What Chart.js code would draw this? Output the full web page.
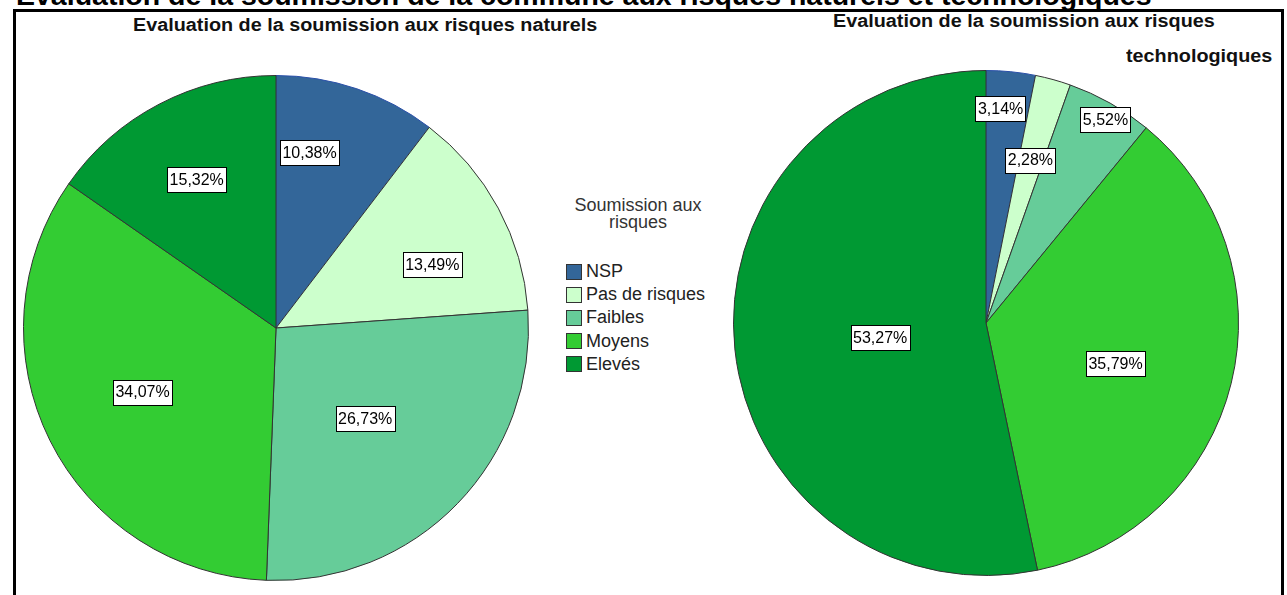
<!DOCTYPE html>
<html>
<head>
  <title>Soumission aux risques</title>
  <script src="https://cdn.jsdelivr.net/npm/chart.js@4.4.1/dist/chart.umd.min.js"></script>
  <style>
    body { margin: 0; width: 1287px; height: 595px; overflow: hidden; background: #fff;
           font-family: "Liberation Sans", Arial, sans-serif; position: relative; }
    .txt { position: absolute; white-space: nowrap; }
    .sous { font-size: 18px; line-height: 18px; font-weight: bold; color: #111;
            transform: scaleX(1.1); transform-origin: left center; }
    #cadre { position: absolute; left: 13px; top: 9px; width: 1271px; height: 700px;
             border: 3px solid #000; box-sizing: border-box; }
    canvas { position: absolute; }
    #legende { position: absolute; left: 566px; top: 260px; }
    .ligne { height: 23.2px; display: flex; align-items: center; font-size: 18px; color: #222; }
    .case { width: 14px; height: 14px; border: 1.5px solid #333; margin-right: 4px; }
  </style>
</head>
<body>
  <div class="txt" style="left:16px; top:-19px; font-size:28.5px; line-height:28.5px; font-weight:bold; color:#000;">Evaluation de la soumission de la commune aux risques naturels et technologiques</div>
  <div id="cadre"></div>

  <div class="txt sous" style="left:133px; top:16px;">Evaluation de la soumission aux risques naturels</div>
  <div class="txt sous" style="left:833px; top:12px;">Evaluation de la soumission aux risques</div>
  <div class="txt sous" style="left:1126px; top:47px;">technologiques</div>

  <div class="txt" style="left:538px; top:197px; width:200px; text-align:center; font-size:18px; line-height:17.3px; color:#333; white-space:normal;">Soumission aux<br>risques</div>
  <div id="legende"></div>

  <canvas id="naturels" width="506" height="506" style="left:23px; top:75px; width:506px; height:506px;"></canvas>
  <canvas id="technos" width="506" height="506" style="left:733px; top:70px; width:506px; height:506px;"></canvas>

  <script>
    // categories et couleurs
    var categories = ['NSP', 'Pas de risques', 'Faibles', 'Moyens', 'Elevés'];
    var couleurs = ['#336699', '#ccffcc', '#66cc99', '#33cc33', '#009933'];

    // pourcentages
    var risquesNaturels = [10.38, 13.49, 26.73, 34.07, 15.32];
    var risquesTechnos = [3.14, 2.28, 5.52, 35.79, 53.27];

    // legende commune
    var legende = document.getElementById('legende');
    categories.forEach(function(nom, i) {
      var ligne = document.createElement('div');
      ligne.className = 'ligne';
      var c = document.createElement('div');
      c.className = 'case';
      c.style.background = couleurs[i];
      var t = document.createElement('span');
      t.textContent = nom;
      ligne.appendChild(c);
      ligne.appendChild(t);
      legende.appendChild(ligne);
    });

    // etiquettes en pourcentage dans des cadres blancs
    var etiquettes = {
      id: 'etiquettes',
      afterDatasetsDraw: function(chart, args, opts) {
        var ctx = chart.ctx;
        var meta = chart.getDatasetMeta(0);
        var valeurs = chart.data.datasets[0].data;
        ctx.save();
        ctx.font = '16px "Liberation Sans", Arial, sans-serif';
        ctx.textAlign = 'center';
        ctx.textBaseline = 'middle';
        meta.data.forEach(function(arc, i) {
          var p = arc.getProps(['x', 'y', 'startAngle', 'endAngle', 'outerRadius'], true);
          var a = p.startAngle + opts.angle[i] * (p.endAngle - p.startAngle);
          var r = opts.rayon[i] * p.outerRadius;
          var x = p.x + Math.cos(a) * r;
          var y = p.y + Math.sin(a) * r;
          var texte = valeurs[i].toFixed(2).replace('.', ',') + '%';
          var w = ctx.measureText(texte).width + 5;
          var h = 25;
          ctx.fillStyle = '#fff';
          ctx.fillRect(Math.round(x - w / 2) + 0.5, Math.round(y - h / 2) + 0.5, Math.round(w), h);
          ctx.strokeStyle = '#000';
          ctx.lineWidth = 1;
          ctx.strokeRect(Math.round(x - w / 2) + 0.5, Math.round(y - h / 2) + 0.5, Math.round(w), h);
          ctx.fillStyle = '#000';
          ctx.fillText(texte, x, y + 1);
        });
        ctx.restore();
      }
    };

    function camembert(id, valeurs, rayon, angle) {
      return new Chart(document.getElementById(id), {
        type: 'pie',
        data: {
          labels: categories,
          datasets: [{
            data: valeurs,
            backgroundColor: couleurs,
            borderColor: ['#2a4fa8', '#333', '#333', '#333', '#333'],
            borderWidth: 1
          }]
        },
        options: {
          responsive: false,
          animation: false,
          layout: { padding: 0 },
          plugins: {
            legend: { display: false },
            tooltip: { enabled: false },
            etiquettes: { rayon: rayon, angle: angle }
          }
        },
        plugins: [etiquettes]
      });
    }

    camembert('naturels', risquesNaturels,
      [0.707, 0.668, 0.502, 0.586, 0.666],
      [0.29, 0.63, 0.513, 0.507, 0.49]);
    camembert('technos', risquesTechnos,
      [0.85, 0.669, 0.934, 0.538, 0.423],
      [0.345, 0.48, 0.55, 0.529, 0.49]);
  </script>
</body>
</html>
